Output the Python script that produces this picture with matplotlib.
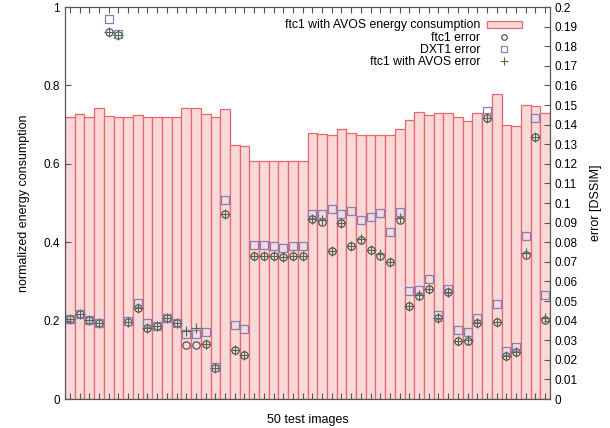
import numpy as np
import matplotlib
matplotlib.use('Agg')
import matplotlib.pyplot as plt
from matplotlib.ticker import FormatStrFormatter, MultipleLocator

plt.rcParams['font.family'] = ['Liberation Sans', 'DejaVu Sans']
plt.rcParams['font.size'] = 8.5

# normalized energy consumption per test image
energy = [0.720, 0.727, 0.720, 0.742, 0.721, 0.720, 0.720, 0.724, 0.720, 0.720,
          0.720, 0.720, 0.742, 0.742, 0.728, 0.720, 0.740, 0.649, 0.645, 0.608,
          0.608, 0.608, 0.608, 0.608, 0.608, 0.679, 0.676, 0.673, 0.688, 0.679,
          0.673, 0.673, 0.673, 0.673, 0.688, 0.713, 0.733, 0.724, 0.729, 0.729,
          0.719, 0.709, 0.730, 0.730, 0.778, 0.698, 0.696, 0.749, 0.747, 0.729]

# DSSIM errors
ftc1_err = [0.0407, 0.0434, 0.0402, 0.0386, 0.1871, 0.1856, 0.0393, 0.0466, 0.0364, 0.0372,
            0.0412, 0.0389, 0.0276, 0.0276, 0.0279, 0.0160, 0.0942, 0.0250, 0.0226, 0.0728,
            0.0728, 0.0730, 0.0724, 0.0728, 0.0728, 0.0920, 0.0903, 0.0757, 0.0900, 0.0782,
            0.0810, 0.0760, 0.0730, 0.0699, 0.0915, 0.0476, 0.0526, 0.0563, 0.0412, 0.0546,
            0.0294, 0.0297, 0.0386, 0.1432, 0.0394, 0.0221, 0.0238, 0.0736, 0.1338, 0.0403]
dxt1_err = [0.0407, 0.0434, 0.0402, 0.0388, 0.1939, 0.1862, 0.0396, 0.0488, 0.0386, 0.0372,
            0.0412, 0.0390, 0.0332, 0.0332, 0.0343, 0.0165, 0.1015, 0.0379, 0.0357, 0.0784,
            0.0784, 0.0779, 0.0772, 0.0782, 0.0782, 0.0942, 0.0944, 0.0968, 0.0945, 0.0961,
            0.0913, 0.0930, 0.0949, 0.0850, 0.0953, 0.0553, 0.0556, 0.0614, 0.0427, 0.0560,
            0.0350, 0.0343, 0.0413, 0.1469, 0.0486, 0.0245, 0.0267, 0.0833, 0.1432, 0.0529]
avos_err = [0.0407, 0.0434, 0.0402, 0.0386, 0.1871, 0.1856, 0.0393, 0.0466, 0.0364, 0.0372,
            0.0412, 0.0389, 0.0349, 0.0361, 0.0279, 0.0160, 0.0942, 0.0250, 0.0226, 0.0728,
            0.0728, 0.0730, 0.0724, 0.0728, 0.0728, 0.0920, 0.0913, 0.0757, 0.0900, 0.0782,
            0.0815, 0.0760, 0.0740, 0.0699, 0.0925, 0.0476, 0.0532, 0.0563, 0.0412, 0.0546,
            0.0294, 0.0300, 0.0386, 0.1432, 0.0394, 0.0221, 0.0238, 0.0745, 0.1338, 0.0413]

x = np.arange(1, len(energy) + 1)

fig = plt.figure(figsize=(6.1, 4.28), dpi=100)
ax = fig.add_axes([65/610, 29/428, 485/610, 392/428])
ax.bar(x, energy, 1.0, color='#f9d9d8', edgecolor='#e8676b', linewidth=0.9,
       label='ftc1 with AVOS energy consumption')
ax.set_xlim(0.5, 50.5)
ax.set_ylim(0, 1)
ax.set_yticks(np.arange(0, 1.01, 0.2))
ax.yaxis.set_major_formatter(FormatStrFormatter('%g'))
ax.set_xticks(x)
ax.set_xticklabels([])
ax.tick_params(axis='x', direction='in', top=True, length=4, color='#555555')
ax.tick_params(axis='y', direction='in', right=False, length=4, color='#555555')
ax.set_xlabel('50 test images', fontsize=9, labelpad=7)
ax.set_ylabel('normalized energy consumption', fontsize=9, labelpad=10)
for s in ax.spines.values():
    s.set_color('#555555')

ax2 = ax.twinx()
ax2.plot(x, ftc1_err, 'o', mfc='none', mec='#444444', ms=5.3, mew=0.8, label='ftc1 error')
ax2.plot(x, dxt1_err, 's', mfc='none', mec='#8080bb', ms=5.8, mew=0.9, label='DXT1 error')
ax2.plot(x, avos_err, '+', color='#4a6b4a', ms=7, mew=0.8, label='ftc1 with AVOS error')
ax2.set_ylim(0, 0.2)
ax2.yaxis.set_major_locator(MultipleLocator(0.01))
ax2.yaxis.set_major_formatter(FormatStrFormatter('%g'))
ax2.tick_params(axis='y', direction='in', length=4, color='#555555')
ax2.set_ylabel('error [DSSIM]', fontsize=9, labelpad=9)
for s in ax2.spines.values():
    s.set_color('#555555')

h1, l1 = ax.get_legend_handles_labels()
h2, l2 = ax2.get_legend_handles_labels()
ax2.legend(h1 + h2, l1 + l2, loc='upper right', bbox_to_anchor=(0.96, 0.99),
           frameon=False, markerfirst=False, fontsize=8.8, handlelength=2.9,
           handleheight=0.5, labelspacing=0.02, handletextpad=0.5, borderpad=0.2,
           markerscale=0.75)

fig.savefig('out.png', dpi=100)
